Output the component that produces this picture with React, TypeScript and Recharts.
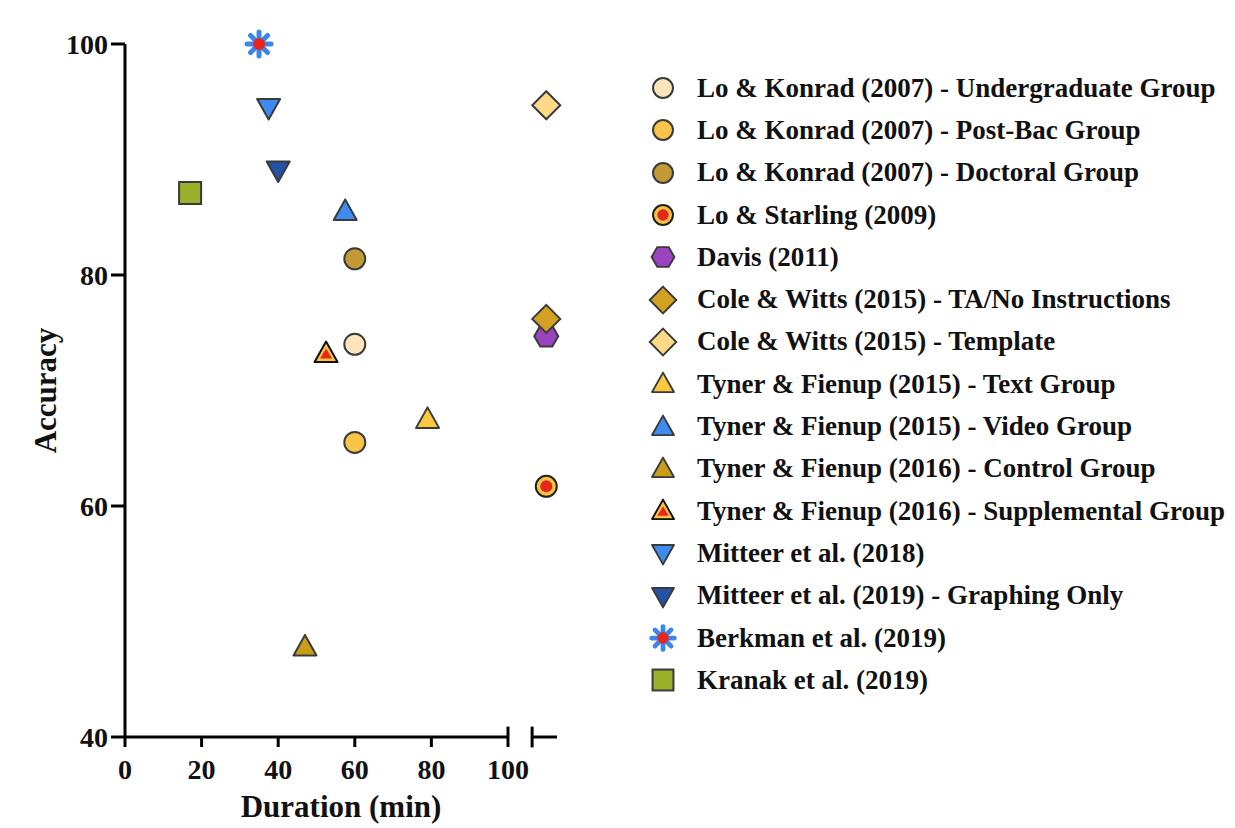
import React from "react";
import { ScatterChart, Scatter, XAxis, YAxis, ReferenceLine } from "recharts";

const names = [
  "Lo & Konrad (2007) - Undergraduate Group",
  "Lo & Konrad (2007) - Post-Bac Group",
  "Lo & Konrad (2007) - Doctoral Group",
  "Lo & Starling (2009)",
  "Davis (2011)",
  "Cole & Witts (2015) - TA/No Instructions",
  "Cole & Witts (2015) - Template",
  "Tyner & Fienup (2015) - Text Group",
  "Tyner & Fienup (2015) - Video Group",
  "Tyner & Fienup (2016) - Control Group",
  "Tyner & Fienup (2016) - Supplemental Group",
  "Mitteer et al. (2018)",
  "Mitteer et al. (2019) - Graphing Only",
  "Berkman et al. (2019)",
  "Kranak et al. (2019)",
];
// x = 110 sits on the short segment past the axis break
const durations = [60, 60, 60, 110, 110, 110, 110, 79, 57.5, 47, 52.5, 37.5, 40, 35, 17];
const accuracies = [74, 65.5, 81.4, 61.7, 74.7, 76.2, 94.7, 67.5, 85.5, 47.8, 73.2, 94.5, 89.1, 100, 87.1];
const kinds = ["circle", "circle", "circle", "ring", "hexagon", "diamond", "diamond", "up", "up", "up", "upInner", "down", "down", "star", "square"];
const fills = ["#FCE5BC", "#F8C548", "#C39A35", "#F6C343", "#9B42BE", "#D3A224", "#FDD98A", "#FBC93D", "#3F8CF0", "#C99E17", "#F6C343", "#3F8CF0", "#2452A6", "#3A86F0", "#9BB02C"];

const xTicks = [0, 20, 40, 60, 80, 100];
const yTicks = [40, 60, 80, 100];

const STROKE = "#3a3a3a";
const FONT = "'Liberation Serif', 'Times New Roman', serif";

const series = names.map((name, i) => ({
  name,
  kind: kinds[i],
  fill: fills[i],
  data: [{ x: durations[i], y: accuracies[i] }],
}));

function Marker({ kind, fill, cx, cy, s = 1 }: { kind: string; fill: string; cx: number; cy: number; s?: number }) {
  const t = `translate(${cx},${cy}) scale(${s})`;
  switch (kind) {
    case "circle":
      return <circle cx={cx} cy={cy} r={10.5 * s} fill={fill} stroke={STROKE} strokeWidth={2} />;
    case "ring":
      return (
        <g>
          <circle cx={cx} cy={cy} r={10.5 * s} fill={fill} stroke="#222" strokeWidth={2} />
          <circle cx={cx} cy={cy} r={6 * s} fill="#E8261C" />
        </g>
      );
    case "hexagon": {
      const pts = [0, 60, 120, 180, 240, 300]
        .map((a) => `${12 * Math.cos((a * Math.PI) / 180)},${12 * Math.sin((a * Math.PI) / 180)}`)
        .join(" ");
      return <polygon transform={t} points={pts} fill={fill} stroke={STROKE} strokeWidth={2} />;
    }
    case "diamond":
      return <polygon transform={t} points="0,-14 14,0 0,14 -14,0" fill={fill} stroke={STROKE} strokeWidth={2} />;
    case "up":
      return <polygon transform={t} points="0,-12 11.5,8.5 -11.5,8.5" fill={fill} stroke={STROKE} strokeWidth={2} strokeLinejoin="round" />;
    case "upInner":
      return (
        <g transform={t}>
          <polygon points="0,-12 11.5,8.5 -11.5,8.5" fill={fill} stroke="#111" strokeWidth={2} strokeLinejoin="round" />
          <polygon points="0,-5 6,5 -6,5" fill="#E8261C" />
        </g>
      );
    case "down":
      return <polygon transform={t} points="-11.5,-8.5 11.5,-8.5 0,12" fill={fill} stroke={STROKE} strokeWidth={2} strokeLinejoin="round" />;
    case "square":
      return <rect x={cx - 11 * s} y={cy - 11 * s} width={22 * s} height={22 * s} fill={fill} stroke={STROKE} strokeWidth={2} />;
    case "star":
      return (
        <g transform={t}>
          {[0, 45, 90, 135].map((a) => (
            <line
              key={a}
              x1={-12 * Math.cos((a * Math.PI) / 180)}
              y1={-12 * Math.sin((a * Math.PI) / 180)}
              x2={12 * Math.cos((a * Math.PI) / 180)}
              y2={12 * Math.sin((a * Math.PI) / 180)}
              stroke={fill}
              strokeWidth={5}
              strokeLinecap="round"
            />
          ))}
          <circle r={6} fill="#E8261C" />
        </g>
      );
    default:
      return null;
  }
}

function LegendList() {
  return (
    <div style={{ position: "absolute", left: 640, top: 59 }}>
      {series.map((s) => (
        <div key={s.name} style={{ display: "flex", alignItems: "center", height: 42.3 }}>
          <svg width={30} height={30}>
            <Marker kind={s.kind} fill={s.fill} cx={15} cy={15} s={0.95} />
          </svg>
          <span style={{ marginLeft: 19, fontFamily: FONT, fontWeight: "bold", fontSize: 27, color: "#111", whiteSpace: "nowrap" }}>
            {s.name}
          </span>
        </div>
      ))}
    </div>
  );
}

export default function App() {
  const tickStyle = { fontFamily: FONT, fontWeight: "bold" as const, fontSize: 28, fill: "#111" };
  return (
    <div style={{ position: "relative", width: 1227, height: 820 }}>
      <ScatterChart width={1227} height={820} margin={{ top: 36, right: 678, bottom: 0, left: 0 }}>
        <XAxis
          type="number"
          dataKey="x"
          domain={[0, 112.8]}
          ticks={xTicks}
          axisLine={false}
          tickLine={{ stroke: "#000", strokeWidth: 3 }}
          tickSize={10}
          tickMargin={12}
          tick={tickStyle}
          height={91}
          label={{
            value: "Duration (min)",
            position: "insideBottom",
            offset: 11,
            style: { fontFamily: FONT, fontWeight: "bold", fontSize: 31, fill: "#111" },
          }}
        />
        <YAxis
          type="number"
          dataKey="y"
          domain={[40, 100]}
          ticks={yTicks}
          axisLine={{ stroke: "#000", strokeWidth: 3 }}
          tickLine={{ stroke: "#000", strokeWidth: 3 }}
          tickSize={14}
          tickMargin={3}
          tick={tickStyle}
          width={117}
          label={{
            value: "Accuracy",
            angle: -90,
            position: "insideLeft",
            offset: 37,
            style: { textAnchor: "middle", fontFamily: FONT, fontWeight: "bold", fontSize: 31, fill: "#111" },
          }}
        />
        <ReferenceLine segment={[{ x: 0, y: 40 }, { x: 100, y: 40 }]} stroke="#000" strokeWidth={3} ifOverflow="visible" />
        <ReferenceLine segment={[{ x: 100, y: 40 }, { x: 100, y: 40.9 }]} stroke="#000" strokeWidth={3} ifOverflow="visible" />
        <ReferenceLine segment={[{ x: 106.3, y: 39.1 }, { x: 106.3, y: 40.9 }]} stroke="#000" strokeWidth={3} ifOverflow="visible" />
        <ReferenceLine segment={[{ x: 106.3, y: 40 }, { x: 112.8, y: 40 }]} stroke="#000" strokeWidth={3} ifOverflow="visible" />
        {series.map((s) => (
          <Scatter
            key={s.name}
            name={s.name}
            data={s.data}
            isAnimationActive={false}
            shape={(p: any) => <Marker kind={s.kind} fill={s.fill} cx={p.cx} cy={p.cy} />}
          />
        ))}
      </ScatterChart>
      <LegendList />
    </div>
  );
}
